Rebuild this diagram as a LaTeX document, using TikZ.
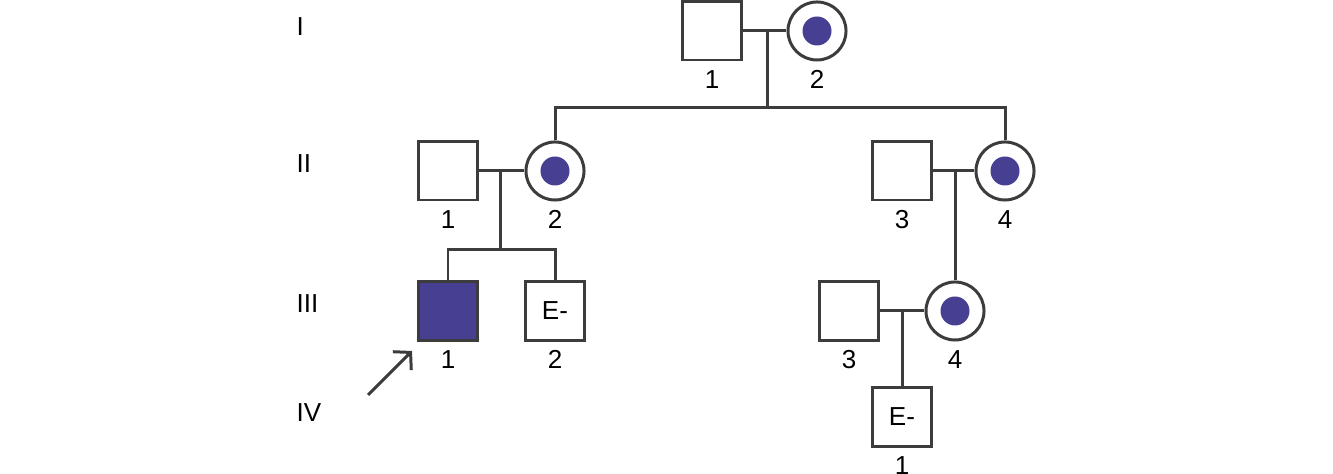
\documentclass[tikz,border=0pt]{standalone}
\usepackage{fontspec}
\setmainfont{Liberation Sans}
\usetikzlibrary{arrows.meta}
\definecolor{pedline}{HTML}{3C3C3C}
\definecolor{affected}{HTML}{463F92}
\tikzset{
  ind/.style={draw=pedline, line width=0.85pt, minimum size=0.58cm, inner sep=0pt,
              fill=white, font=\fontsize{7.4}{9}\selectfont},
  male/.style={ind, rectangle},
  female/.style={ind, circle},
  carrier/.style={female, path picture={\fill[affected] (path picture bounding box.center) circle (0.145cm);}},
  affmale/.style={male, fill=affected},
  num/.style={font=\fontsize{7.4}{9}\selectfont, inner sep=0pt, yshift=-0.08cm},
  gen/.style={font=\fontsize{7.4}{9}\selectfont, anchor=west, inner sep=0pt},
  pedigree/.style={draw=pedline, line width=0.85pt},
}

\begin{document}
\begin{tikzpicture}[x=0.01cm, y=-0.01cm]
    \useasboundingbox (0,0) rectangle (1333,474);
    % generation numbers
    \node[gen] (gI) at (296, 27) {I};
    \node[gen] (gII) at (296, 164) {II};
    \node[gen] (gIII) at (296, 304) {III};
    \node[gen] (gIV) at (296, 413) {IV};
    % generation I
    \node[male, label={[num]below:1}] (I-1) at (712, 31) {};
    \node[carrier, label={[num]below:2}] (I-2) at (817, 31) {};
    % generation II
    \node[male, label={[num]below:1}] (II-1) at (448, 171) {};
    \node[carrier, label={[num]below:2}] (II-2) at (555, 171) {};
    \node[male, label={[num]below:3}] (II-3) at (902, 171) {};
    \node[carrier, label={[num]below:4}] (II-4) at (1005, 171) {};
    % generation III
    \node[affmale, label={[num]below:1}] (III-1) at (448, 311) {};
    \node[male, label={[num]below:2}] (III-2) at (555, 311) {E-};
    \node[male, label={[num]below:3}] (III-3) at (849, 311) {};
    \node[carrier, label={[num]below:4}] (III-4) at (955, 311) {};
    % generation IV
    \node[male, label={[num]below:1}] (IV-1) at (902, 417) {E-};
    % matings and sibships
    \coordinate (m1) at (767, 31);
    \coordinate (s1) at (767, 108);
    \draw[pedigree] (I-1) -- (I-2);
    \draw[pedigree] (m1) -- (s1);
    \draw[pedigree] (II-2.north) |- (s1) -| (II-4.north);
    \coordinate (m2) at (500, 171);
    \coordinate (s2) at (500, 250);
    \draw[pedigree] (II-1) -- (II-2);
    \draw[pedigree] (m2) -- (s2);
    \draw[pedigree] (III-1.north) |- (s2) -| (III-2.north);
    \coordinate (m3) at (955, 171);
    \draw[pedigree] (II-3) -- (II-4);
    \draw[pedigree] (m3) -- (III-4.north);
    \coordinate (m4) at (902, 311);
    \draw[pedigree] (III-3) -- (III-4);
    \draw[pedigree] (m4) -- (IV-1.north);
    % proband
    \coordinate (pa) at (368, 395);
    \coordinate (pb) at (412, 351);
    \draw[pedigree, -{Straight Barb[length=1.2mm, width=2.6mm]}] (pa) -- (pb);
  \end{tikzpicture}
\end{document}
